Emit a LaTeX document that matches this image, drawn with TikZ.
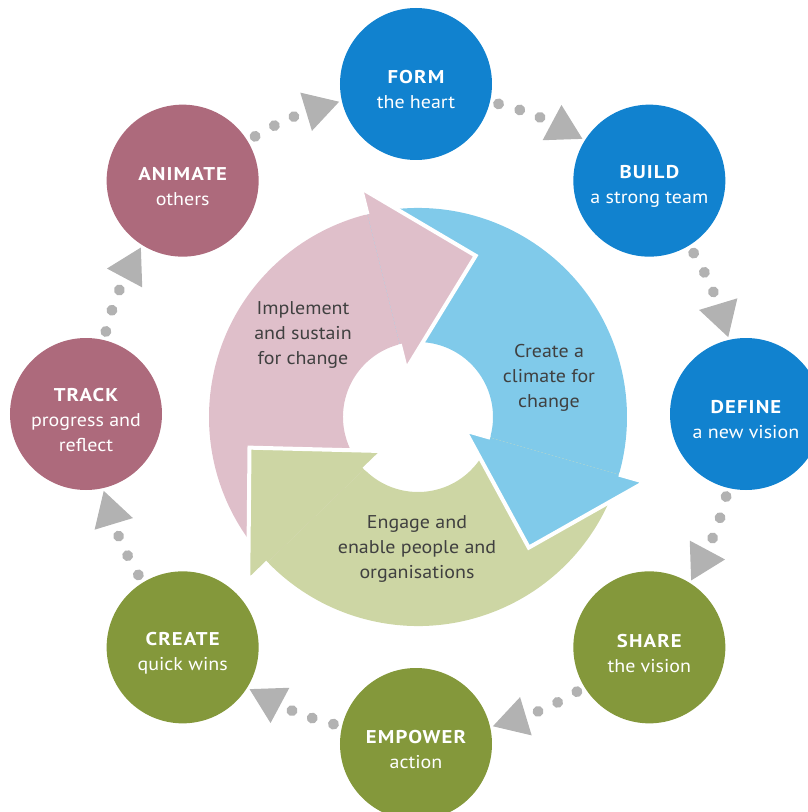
\documentclass[tikz,border=0pt]{standalone}
\usepackage{fontspec}
\setmainfont{PT Sans}[FakeStretch=1.08]
\newfontfamily\headfont{PT Sans}[FakeStretch=1.12, LetterSpace=6]
\usetikzlibrary{calc,decorations.markings}

\definecolor{formblue}{HTML}{1182CF}
\definecolor{trackrose}{HTML}{AD6A7C}
\definecolor{shareolive}{HTML}{84983B}
\definecolor{sustainpink}{HTML}{DFBFCA}
\definecolor{climateblue}{HTML}{80CAEA}
\definecolor{engagegreen}{HTML}{CDD6A4}
\definecolor{dotgray}{HTML}{B2B2B2}
\definecolor{notegray}{HTML}{404040}

\newcommand\ringshaft[3]{%
    \fill[#1] (#2:209) arc (#2:#3:209) -- (#3:75) arc (#3:#2:75) -- cycle;
}
\newcommand\ringhead[2]{%
    \filldraw[fill=#1, draw=white, line width=4pt]
    (#2:209) -- (#2:236) -- ($(#2:142.5)+(#2-90:95)$) -- (#2:49) -- (#2:75);
}
\newcommand\stagename[1]{\rule{0pt}{25pt}{\headfont\bfseries #1}}

\begin{document}
\begin{tikzpicture}[x=1pt, y=1pt,
    stage/.style={circle, minimum size=152pt, inner sep=0pt, align=center,
        text=white, font=\fontsize{18.5}{25}\selectfont},
    note/.style={align=center, text=notegray, font=\fontsize{18.5}{25}\selectfont},
    conn/.style={decorate, decoration={markings,
        mark=at position 0.085 with {\fill[dotgray] (0,0) circle (5.5pt);},
        mark=at position 0.30 with {\fill[dotgray] (0,0) circle (5.5pt);},
        mark=at position 0.51 with {\fill[dotgray] (0,0) circle (5.5pt);},
        mark=at position 0.75 with {\fill[dotgray] (23,0) -- (-11.5,20) -- (-11.5,-20) -- cycle;}}}
    ]
    \useasboundingbox (-416,-398) rectangle (392,414);

    \begin{scope}[shift={(2,-3)}]
        \ringshaft{sustainpink}{224}{104}
        \ringshaft{climateblue}{104}{-16}
        \ringshaft{engagegreen}{-16}{-136}
        \ringhead{sustainpink}{104}
        \ringhead{climateblue}{-16}
        \ringhead{engagegreen}{224}
    \end{scope}

    \node[note] (implement) at (-113,79) {Implement\\and sustain\\for change};
    \node[note] (climate) at (133,36) {Create a\\climate for\\change};
    \node[note] (engage) at (1,-135) {Engage and\\enable people and\\organisations};

    \node[stage, fill=formblue] (form) at (90:330) {\stagename{FORM}\\the heart};
    \node[stage, fill=formblue] (build) at (45:330) {\stagename{BUILD}\\a strong team};
    \node[stage, fill=formblue] (define) at (0:330) {\stagename{DEFINE}\\a new vision};
    \node[stage, fill=shareolive] (share) at (-45:330) {\stagename{SHARE}\\the vision};
    \node[stage, fill=shareolive] (empower) at (-90:330) {\stagename{EMPOWER}\\action};
    \node[stage, fill=shareolive] (create) at (-135:330) {\stagename{CREATE}\\quick wins};
    \node[stage, fill=trackrose] (track) at (180:330) {\stagename{TRACK}\\progress and\\reflect};
    \node[stage, fill=trackrose] (animate) at (135:330) {\stagename{ANIMATE}\\others};

    \foreach \a/\b in {form/build, build/define, define/share, share/empower,
        empower/create, create/track, track/animate, animate/form}
        \path[conn] (\a) to[bend left=9] (\b);

\end{tikzpicture}
\end{document}
